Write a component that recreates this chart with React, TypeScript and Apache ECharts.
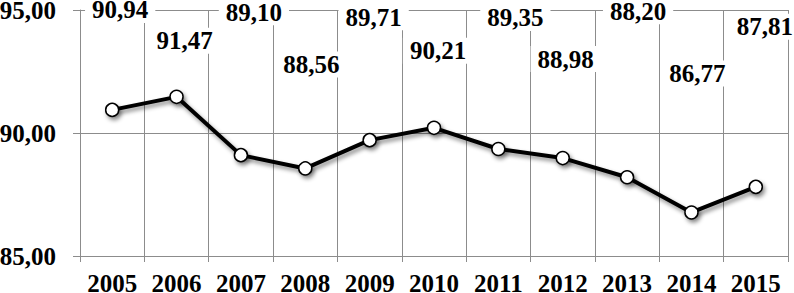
import React, { useEffect, useRef } from "react";
import * as echarts from "echarts";

const years = ["2005", "2006", "2007", "2008", "2009", "2010", "2011", "2012", "2013", "2014", "2015"];
const values = [90.94, 91.47, 89.1, 88.56, 89.71, 90.21, 89.35, 88.98, 88.2, 86.77, 87.81];
// label offsets (dx, dy) relative to each point, in px
const labelDx = [8, 8, 13, 6, 4, 4, 17, 3, 11, 6, 9];
const labelDy = [-100, -56, -143, -104, -123, -77, -131, -99, -166, -139, -160];

const yMin = 85;
const yMax = 95;
const yStep = 5;

const FONT = "Liberation Serif";
const fmt = (v: number) => v.toFixed(2).replace(".", ",");

export default function App() {
  const ref = useRef<HTMLDivElement>(null);
  useEffect(() => {
    document.body.style.margin = "0";
    document.body.style.overflow = "hidden";
    document.documentElement.style.overflow = "hidden";
    const chart = echarts.init(ref.current!, null, { renderer: "svg" });
    const gridColor = "#8c8c8c";
    chart.setOption({
      animation: false,
      backgroundColor: "#ffffff",
      grid: {
        left: 80,
        right: 6,
        top: 10,
        bottom: 37,
        containLabel: false,
        outerBoundsMode: "none",
      },
      xAxis: {
        type: "category",
        data: years,
        boundaryGap: true,
        axisLine: { show: true, lineStyle: { color: gridColor, width: 1 } },
        axisTick: { show: true, length: 6, alignWithLabel: false, lineStyle: { color: gridColor } },
        splitLine: { show: true, lineStyle: { color: gridColor, width: 1 } },
        axisLabel: {
          margin: 18,
          color: "#000",
          fontFamily: FONT,
          fontWeight: "bold",
          fontSize: 25,
          lineHeight: 19,
          interval: 0,
        },
      },
      yAxis: {
        type: "value",
        min: yMin,
        max: yMax,
        interval: yStep,
        axisLine: { show: true, lineStyle: { color: gridColor, width: 1 } },
        axisTick: { show: true, length: 7, lineStyle: { color: gridColor } },
        splitLine: { show: true, lineStyle: { color: gridColor, width: 1 } },
        axisLabel: {
          margin: 24,
          color: "#000",
          fontFamily: FONT,
          fontWeight: "bold",
          fontSize: 25,
          lineHeight: 19,
          formatter: (v: number) => fmt(v),
        },
      },
      series: [
        {
          type: "line",
          data: values.map((v, i) => ({
            value: v,
            label: { offset: [labelDx[i], labelDy[i]] },
          })),
          symbol: "circle",
          symbolSize: 13,
          lineStyle: {
            color: "#000",
            width: 4,
            shadowColor: "rgba(0,0,0,0.45)",
            shadowBlur: 4,
            shadowOffsetX: 2,
            shadowOffsetY: 3,
          },
          itemStyle: {
            color: "#fff",
            borderColor: "#000",
            borderWidth: 1.5,
            shadowColor: "rgba(0,0,0,0.45)",
            shadowBlur: 4,
            shadowOffsetX: 2,
            shadowOffsetY: 3,
          },
          label: {
            show: true,
            position: "inside",
            formatter: (p: any) => fmt(p.value),
            color: "#000",
            fontFamily: FONT,
            fontWeight: "bold",
            fontSize: 25,
            lineHeight: 20,
            backgroundColor: "#fff",
            padding: [3, 7],
          },
          z: 3,
        },
      ],
    });
    return () => chart.dispose();
  }, []);
  return <div ref={ref} style={{ width: 794, height: 293, overflow: "hidden" }} />;
}
